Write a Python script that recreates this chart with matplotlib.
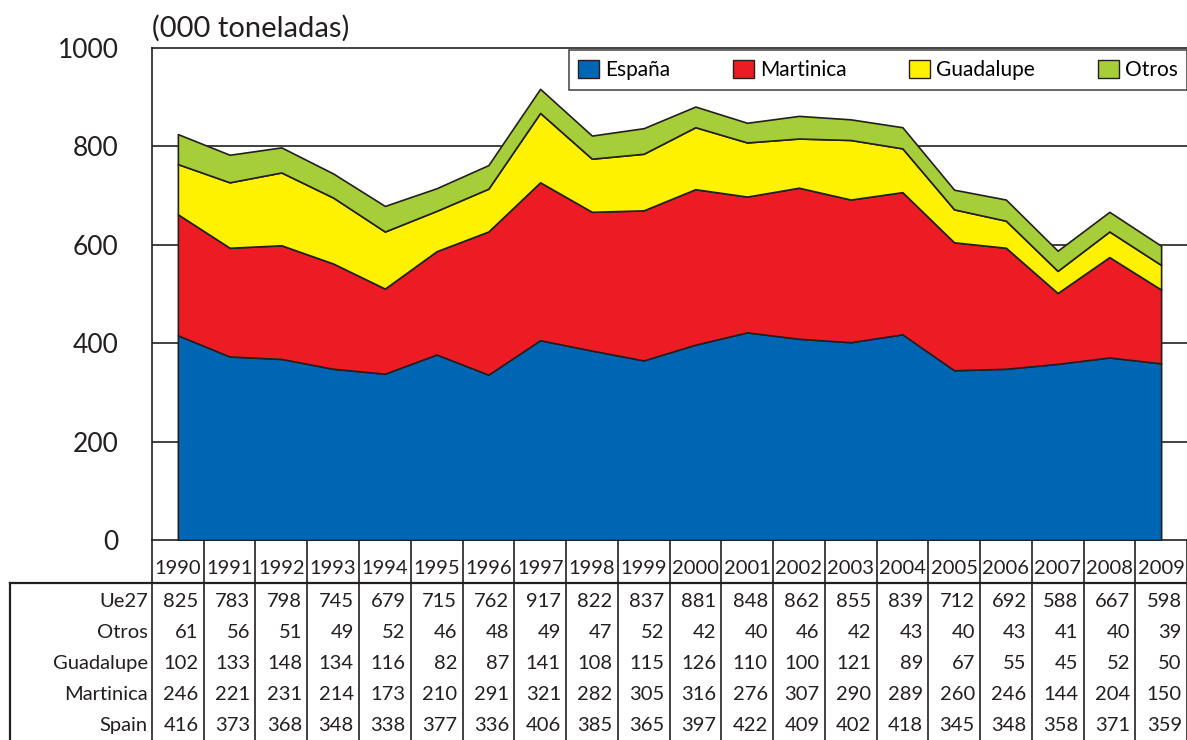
import matplotlib
matplotlib.use("Agg")
import matplotlib.pyplot as plt
import matplotlib.transforms as mtransforms
from matplotlib.patches import Patch
from matplotlib import font_manager

years = [1990, 1991, 1992, 1993, 1994, 1995, 1996, 1997, 1998, 1999,
         2000, 2001, 2002, 2003, 2004, 2005, 2006, 2007, 2008, 2009]
spain = [416, 373, 368, 348, 338, 377, 336, 406, 385, 365,
         397, 422, 409, 402, 418, 345, 348, 358, 371, 359]
martinica = [246, 221, 231, 214, 173, 210, 291, 321, 282, 305,
             316, 276, 307, 290, 289, 260, 246, 144, 204, 150]
guadalupe = [102, 133, 148, 134, 116, 82, 87, 141, 108, 115,
             126, 110, 100, 121, 89, 67, 55, 45, 52, 50]
otros = [61, 56, 51, 49, 52, 46, 48, 49, 47, 52,
         42, 40, 46, 42, 43, 40, 43, 41, 40, 39]
ue27 = [825, 783, 798, 745, 679, 715, 762, 917, 822, 837,
        881, 848, 862, 855, 839, 712, 692, 588, 667, 598]

legend_labels = ["España", "Martinica", "Guadalupe", "Otros"]
row_labels = ["Ue27", "Otros", "Guadalupe", "Martinica", "Spain"]
yticks = [0, 200, 400, 600, 800, 1000]
colors = ["#0066B3", "#ED1C24", "#FFF200", "#A6CE39"]

avail = {f.name for f in font_manager.fontManager.ttflist}
narrow = "Liberation Sans Narrow" if "Liberation Sans Narrow" in avail else "Lato"
main_font = "Lato" if "Lato" in avail else "DejaVu Sans"
plt.rcParams["font.family"] = [main_font, "DejaVu Sans"]

W, H = 1187, 740
fig = plt.figure(figsize=(W / 100, H / 100), dpi=100)
x0, x1 = 152, 1187
y_top, y_bot = 48, 540
ax = fig.add_axes([x0 / W, 1 - y_bot / H, (x1 - x0) / W, (y_bot - y_top) / H])

xs = list(range(len(years)))
ax.stackplot(xs, spain, martinica, guadalupe, otros, colors=colors,
             edgecolor="#231F20", linewidth=1.2, zorder=3)

ax.set_xlim(-0.5, len(years) - 0.5)
ax.set_ylim(0, 1000)
ax.set_yticks(yticks)
ax.set_yticklabels([str(v) for v in yticks], fontsize=19, color="#231F20")
ax.tick_params(axis="y", length=0, pad=24)
ax.tick_params(axis="x", length=0, labelbottom=False)
for v in yticks[1:-1]:
    ax.axhline(v, color="#231F20", linewidth=1.2, zorder=1)
for s in ["top", "left", "bottom"]:
    ax.spines[s].set_color("#231F20")
    ax.spines[s].set_linewidth(1.2)
ax.spines["right"].set_visible(False)

ax.text(0, 1.012, "(000 toneladas)", transform=ax.transAxes, fontsize=21,
        color="#231F20", ha="left", va="bottom")

handles = [Patch(facecolor=c, edgecolor="#231F20", linewidth=1) for c in colors]
leg = ax.legend(handles, legend_labels, ncol=4, loc="upper right",
                bbox_to_anchor=(1.0, 0.995), frameon=True, fancybox=False,
                edgecolor="#231F20", prop={"family": [narrow, "DejaVu Sans"], "size": 15},
                handlelength=1.0, handleheight=1.0, handletextpad=0.3,
                columnspacing=3.0, borderpad=0.45, borderaxespad=0.0)
leg.get_frame().set_linewidth(1.2)
leg.set_zorder(5)

# Table below the chart
lc = "#231F20"
tfont = {"family": [narrow, "DejaVu Sans"], "size": 14.5, "color": lc}
bt = mtransforms.blended_transform_factory(ax.transData, fig.transFigure)
bt_ax = mtransforms.blended_transform_factory(ax.transAxes, fig.transFigure)

def fy(py):
    return 1 - py / H

year_bottom = 583
row_h = 31.0
for i, yr in enumerate(years):
    ax.text(i, fy(568), str(yr), transform=bt, ha="center", va="center", **tfont)
for i in range(len(years) + 1):
    ax.plot([i - 0.5, i - 0.5], [fy(540), fy(740)], transform=bt, color=lc,
            linewidth=1.2, clip_on=False)
left_table = 10
fig.add_artist(plt.Line2D([left_table / W, 1], [fy(year_bottom), fy(year_bottom)],
                          color=lc, linewidth=1.6))
fig.add_artist(plt.Line2D([left_table / W, left_table / W], [fy(year_bottom), 0],
                          color=lc, linewidth=1.6))

rows = [ue27, otros, guadalupe, martinica, spain]
for r, (lab, vals) in enumerate(zip(row_labels, rows)):
    yc = fy(year_bottom + row_h * (r + 0.6))
    ax.text(-0.004, yc, lab, transform=bt_ax, ha="right", va="center", **tfont)
    for i, v in enumerate(vals):
        ax.text(i + 0.4, yc, str(v), transform=bt, ha="right", va="center", **tfont)

fig.savefig("out.png", dpi=100)
